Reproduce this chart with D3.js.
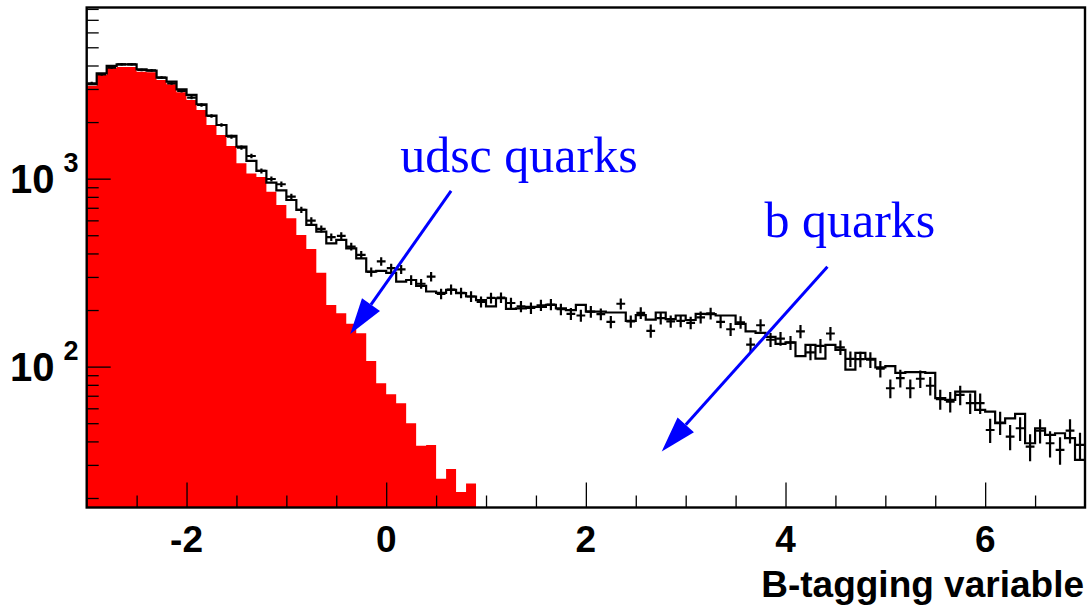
<!DOCTYPE html>
<html>
<head>
<meta charset="utf-8">
<script src="https://cdn.jsdelivr.net/npm/d3@7"></script>
<style>
  html, body { margin: 0; padding: 0; background: #fff; }
  svg { display: block; }
</style>
</head>
<body>
<svg id="chart" width="1091" height="611"></svg>
<script>
// Histogram binning: 100 bins of width 0.1 covering [-3, 7]
const binLow = -3;
const binWidth = 0.1;

// Simulated total (udsc + b), entries per bin
const simTotal = [
  3178, 3636, 3977, 4060, 4060, 3819, 3754, 3445, 3281, 2989,
  2788, 2488, 2163, 1930, 1687, 1480, 1242, 1099, 952, 866,
  770, 682, 567, 523, 453, 472, 426, 377, 320, 323,
  315, 283, 289, 269, 251, 247, 256, 246, 236, 226,
  209, 231, 203, 204, 208, 208, 213, 204, 200, 213,
  196, 196, 194, 194, 175, 188, 178, 194, 179, 187,
  177, 191, 190, 187, 187, 169, 154, 151, 144, 132,
  134.5, 113.6, 130.4, 110.2, 130.4, 122.7, 96.4, 118.3, 109.9, 99,
  100.5, 92.6, 93.5, 93.5, 92.6, 67.9, 66.5, 73.6, 73.6, 58.8,
  57.6, 50.0, 53.1, 56.0, 39.1, 47.0, 43.3, 44.2, 41.6, 31.9
];

// Simulated light-quark (udsc) component, bins starting at -3
const simLight = [
  3124, 3562, 3895, 3928, 3928, 3708, 3681, 3350, 3178, 2882,
  2622, 2320, 1930, 1708, 1492, 1207, 1066, 1021, 853, 725,
  616, 502, 423, 316, 213, 192, 169, 150.5, 107.2, 81.6,
  71.3, 63.9, 50.0, 37.9, 38.3, 25.3, 28.5, 21.5, 23.9
];

// Measured entries per bin
const dataCounts = [
  3217, 3592, 3895, 4060, 4060, 3786, 3772, 3445, 3217, 2927,
  2697, 2466, 2155, 1930, 1673, 1462, 1320, 1099, 996, 934,
  802, 682, 598, 540, 488, 496, 435, 393, 319, 363,
  334, 329, 289, 276, 301, 244, 257, 247, 236, 221,
  232, 233, 218, 209, 205, 212, 214, 202, 191, 187,
  196, 190, 173, 216, 174, 193, 155, 181, 174, 175,
  171, 183, 192, 173, 158, 172, 131, 166, 139, 141,
  134, 154, 119, 129, 150, 126.5, 110, 109.6, 108.9, 97.4,
  76.7, 86.8, 76.7, 86.2, 79.1, 67.1, 65.1, 70.7, 63.9, 63.9,
  46.0, 50.4, 42.4, 47.0, 37.5, 45.7, 39.1, 36.1, 45.7, 38.3
];

// Axis ticks and labels
const xMajorTicks = [-2, 0, 2, 4, 6];
const xTickLabels = ["-2", "0", "2", "4", "6"];
const xMinorTicks = [-2.5, -1.5, -1, -0.5, 0.5, 1, 1.5, 2.5, 3, 3.5, 4.5, 5, 5.5, 6.5];
const yMajorTicks = [100, 1000];
const yTickExponents = ["2", "3"];
const yMinorTicks = [20, 30, 40, 50, 60, 70, 80, 90, 200, 300, 400, 500, 600, 700, 800, 900,
                     2000, 3000, 4000, 5000, 6000, 7000, 8000];
const xTitle = "B-tagging variable";

const svg = d3.select("#chart");
const frame = { left: 86.7, right: 1085, top: 7.5, bottom: 507.5 };

const x = d3.scaleLinear().domain([-3, 7]).range([frame.left, frame.right]);
const y = d3.scaleLog().domain([17.8, 8140]).range([frame.bottom, frame.top]).clamp(true);

svg.append("rect").attr("width", 1091).attr("height", 611).attr("fill", "#fff");

svg.append("clipPath").attr("id", "plotClip")
  .append("rect").attr("x", frame.left).attr("y", frame.top)
  .attr("width", frame.right - frame.left).attr("height", frame.bottom - frame.top);

const plot = svg.append("g").attr("clip-path", "url(#plotClip)");

// Turn a bin array into step vertices
const steps = arr => arr.flatMap((v, i) => [
  [binLow + i * binWidth, v],
  [binLow + (i + 1) * binWidth, v]
]);

// udsc component: solid red fill
plot.append("path")
  .datum(steps(simLight))
  .attr("fill", "#ff0000")
  .attr("stroke", "none")
  .attr("d", d3.area().x(d => x(d[0])).y0(frame.bottom).y1(d => y(d[1])));

// total simulation: black step outline
plot.append("path")
  .datum(steps(simTotal))
  .attr("fill", "none")
  .attr("stroke", "#000")
  .attr("stroke-width", 2.2)
  .attr("stroke-linejoin", "miter")
  .attr("d", d3.line().x(d => x(d[0])).y(d => y(d[1])));

// data: crosses with Poisson errors
const pts = plot.append("g").attr("stroke", "#000").attr("stroke-width", 2.2);
dataCounts.forEach((n, i) => {
  const lo = binLow + i * binWidth, hi = lo + binWidth, c = lo + binWidth / 2;
  const err = Math.sqrt(n);
  pts.append("line")
    .attr("x1", x(lo + 0.006)).attr("x2", x(hi - 0.006))
    .attr("y1", y(n)).attr("y2", y(n));
  pts.append("line")
    .attr("x1", x(c)).attr("x2", x(c))
    .attr("y1", y(n + err)).attr("y2", y(n - err));
});

// axes: ticks pointing into the frame
const axStyle = g => {
  g.select(".domain").remove();
  g.selectAll("line").attr("stroke", "#000").attr("stroke-width", 1.3);
  g.selectAll("text").remove();
};
svg.append("g").attr("transform", `translate(0,${frame.bottom})`)
  .call(d3.axisBottom(x).tickValues(xMajorTicks).tickSize(-25).tickFormat(""))
  .call(axStyle);
svg.append("g").attr("transform", `translate(0,${frame.bottom})`)
  .call(d3.axisBottom(x).tickValues(xMinorTicks).tickSize(-12).tickFormat(""))
  .call(axStyle);
svg.append("g").attr("transform", `translate(${frame.left},0)`)
  .call(d3.axisLeft(y).tickValues(yMajorTicks).tickSize(-24).tickFormat(""))
  .call(axStyle);
svg.append("g").attr("transform", `translate(${frame.left},0)`)
  .call(d3.axisLeft(y).tickValues(yMinorTicks).tickSize(-12).tickFormat(""))
  .call(axStyle);

// frame
svg.append("rect")
  .attr("x", frame.left).attr("y", frame.top)
  .attr("width", frame.right - frame.left).attr("height", frame.bottom - frame.top)
  .attr("fill", "none").attr("stroke", "#000").attr("stroke-width", 2.4);

const sans = "'Liberation Sans', Arial, Helvetica, sans-serif";

// x tick labels
svg.append("g").selectAll("text")
  .data(xMajorTicks)
  .join("text")
  .attr("x", d => x(d)).attr("y", 552)
  .attr("text-anchor", "middle")
  .attr("font-family", sans).attr("font-weight", "bold").attr("font-size", 37)
  .text((d, i) => xTickLabels[i]);

// y tick labels as powers of ten
const yl = svg.append("g").attr("font-family", sans).attr("font-weight", "bold");
yMajorTicks.forEach((v, i) => {
  yl.append("text").attr("x", 54.5).attr("y", y(v) + 14.5)
    .attr("text-anchor", "end").attr("font-size", 40).text("10");
  yl.append("text").attr("x", 63.5).attr("y", y(v) - 6.5)
    .attr("font-size", 27).text(yTickExponents[i]);
});

// axis title
svg.append("text")
  .attr("x", 1084).attr("y", 597)
  .attr("text-anchor", "end")
  .attr("font-family", sans).attr("font-weight", "bold").attr("font-size", 37)
  .text(xTitle);

// annotations with arrows
const blue = "#0000ff";
const serif = "'Liberation Serif', 'Times New Roman', Times, serif";
const notes = [
  { label: "udsc quarks", at: [0.14, 1085], from: [0.65, 860], to: [-0.36, 149] },
  { label: "b quarks", at: [3.79, 490], from: [4.42, 340], to: [2.76, 35.3] }
];
const ann = svg.append("g");
notes.forEach(n => {
  ann.append("text")
    .attr("x", x(n.at[0])).attr("y", y(n.at[1]))
    .attr("font-family", serif).attr("font-size", 50).attr("fill", blue)
    .text(n.label);
  const x1 = x(n.from[0]), y1 = y(n.from[1]), x2 = x(n.to[0]), y2 = y(n.to[1]);
  const len = Math.hypot(x2 - x1, y2 - y1);
  const ux = (x2 - x1) / len, uy = (y2 - y1) / len;
  const headLen = 36, headHalf = 11;
  const bx = x2 - ux * headLen, by = y2 - uy * headLen;
  ann.append("line")
    .attr("x1", x1).attr("y1", y1).attr("x2", bx).attr("y2", by)
    .attr("stroke", blue).attr("stroke-width", 3);
  ann.append("polygon")
    .attr("points", [
      [x2, y2],
      [bx - uy * headHalf, by + ux * headHalf],
      [bx + uy * headHalf, by - ux * headHalf]
    ].map(p => p.join(",")).join(" "))
    .attr("fill", blue);
});
</script>
</body>
</html>
